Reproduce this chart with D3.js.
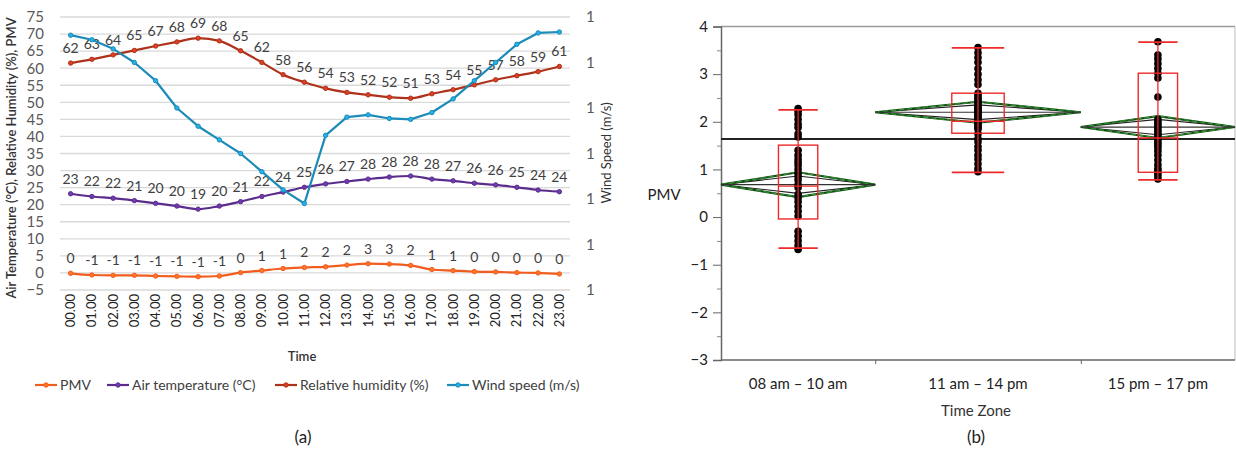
<!DOCTYPE html>
<html lang="en">
<head>
  <meta charset="UTF-8">
  <title>PMV, climate and time zones</title>
  <script src="https://d3js.org/d3.v7.min.js"></script>
  <style>
    body { margin: 0; background: #fff; }
    text { font-family: Lato, "Open Sans", sans-serif; }
  </style>
</head>
<body>
  <svg width="1236" height="456"></svg>
  <script>
    // (a) hourly values
    const hours = ["00.00","01.00","02.00","03.00","04.00","05.00","06.00","07.00","08.00","09.00","10.00","11.00",
                   "12.00","13.00","14.00","15.00","16.00","17.00","18.00","19.00","20.00","21.00","22.00","23.00"];
    const pmv = [-0.1,-0.6,-0.7,-0.7,-0.9,-1.0,-1.1,-0.9,0.1,0.7,1.3,1.6,1.8,2.3,2.7,2.6,2.2,1.0,0.7,0.4,0.3,0.1,0.0,-0.3];
    const airTemp = [23.2,22.4,21.9,21.2,20.4,19.6,18.7,19.6,20.9,22.4,23.7,25.1,
                     26.1,26.8,27.5,28.1,28.4,27.5,27.0,26.3,25.8,25.1,24.3,23.8];
    const humidity = [61.5,62.6,63.9,65.2,66.5,67.7,68.8,68.0,65.1,61.7,58.1,55.9,
                      54.1,52.9,52.2,51.5,51.2,52.5,53.7,55.1,56.6,57.8,59.0,60.5];
    const windSpeed = [1.36,1.35,1.33,1.30,1.26,1.20,1.16,1.13,1.10,1.06,1.02,0.99,
                       1.14,1.18,1.185,1.177,1.175,1.19,1.22,1.26,1.30,1.34,1.365,1.367];
    const leftTicks = d3.range(-5, 76, 5);
    const windTicks = [0.8,0.9,1.0,1.1,1.2,1.3,1.4];

    // (b) PMV by time zone
    const zones = ["08 am \u2013 10 am","11 am \u2013 14 pm","15 pm \u2013 17 pm"];
    const zoneCounts = [30, 40, 30];
    const zonePoints = [
      [2.28,2.22,2.15,2.05,1.95,1.88,1.75,1.68,1.40,1.30,1.22,1.15,1.08,1.00,0.92,0.85,0.78,0.68,0.62,0.48,
       0.40,0.32,0.22,0.12,0.02,-0.30,-0.40,-0.50,-0.60,-0.68],
      [3.56,3.45,3.35,3.25,3.12,3.00,2.88,2.78,2.60,2.55,2.50,2.46,2.42,2.38,2.35,2.32,2.28,2.25,2.22,2.18,
       2.15,2.12,2.08,2.05,2.02,1.98,1.95,1.92,1.88,1.85,1.75,1.65,1.58,1.48,1.40,1.30,1.22,1.12,1.02,0.95],
      [3.68,3.40,3.32,3.22,3.12,3.02,2.92,2.52,2.05,2.00,1.95,1.90,1.85,1.80,1.75,1.70,1.65,1.60,1.55,1.50,
       1.45,1.38,1.30,1.20,1.10,1.02,0.98,0.92,0.86,0.80]
    ];
    const whiskerHi = [2.25, 3.55, 3.67];
    const q3 = [1.51, 2.60, 3.02];
    const median = [0.65, 2.01, 1.66];
    const q1 = [-0.04, 1.76, 0.94];
    const whiskerLo = [-0.65, 0.94, 0.78];
    const means = [0.68, 2.20, 1.89];
    const ciLo = [0.42, 1.98, 1.66];
    const ciHi = [0.94, 2.42, 2.12];
    const grandMean = 1.64;
    const pmvTicks = [-3,-2,-1,0,1,2,3,4];

    const svg = d3.select("svg");

    // ---------- chart (a) ----------
    const colors = { pmv: "#f25c1e", temp: "#5a2d8c", rh: "#ae321b", wind: "#1c8bb8" };
    const x = d3.scaleBand(hours, [60, 570]);
    const cx = h => x(h) + x.bandwidth() / 2;
    const y = d3.scaleLinear([-5, 75], [290, 17]);
    const yWind = d3.scaleLinear([0.8, 1.4], [290, 17]);

    const a = svg.append("g");

    a.append("g").selectAll("line").data(leftTicks).join("line")
      .attr("x1", 60).attr("x2", 570)
      .attr("y1", d => y(d)).attr("y2", d => y(d))
      .attr("stroke", "#d9d9d9").attr("stroke-width", 1.3);

    const yAxis = a.append("g").attr("transform", "translate(60,0)")
      .call(d3.axisLeft(y).tickValues(leftTicks).tickSize(0).tickPadding(16));
    yAxis.select(".domain").remove();
    yAxis.selectAll("text").attr("font-size", 15).attr("fill", "#595959").style("font-family", "Lato");

    const wAxis = a.append("g").attr("transform", "translate(570,0)")
      .call(d3.axisRight(yWind).tickValues(windTicks).tickFormat(d3.format(".0f")).tickSize(0).tickPadding(16));
    wAxis.select(".domain").remove();
    wAxis.selectAll("text").attr("font-size", 15).attr("fill", "#595959").style("font-family", "Lato");

    const xAxis = a.append("g").attr("transform", "translate(0,290)")
      .call(d3.axisBottom(x).tickSize(0));
    xAxis.select(".domain").remove();
    xAxis.selectAll("text")
      .attr("transform", "rotate(-90)")
      .attr("text-anchor", "end")
      .attr("x", -4).attr("y", 0).attr("dy", "0.35em")
      .attr("font-size", 13).attr("fill", "#222").style("font-family", "Lato");

    a.append("text")
      .attr("transform", "translate(11,158) rotate(-90)")
      .attr("text-anchor", "middle").attr("dy", "0.35em")
      .attr("font-size", 13).attr("font-weight", 600).attr("fill", "#333")
      .text("Air Temperature (\u00b0C), Relative Humidity (%), PMV");

    a.append("text")
      .attr("transform", "translate(606,153) rotate(-90)")
      .attr("text-anchor", "middle").attr("dy", "0.35em")
      .attr("font-size", 13).attr("fill", "#333")
      .text("Wind Speed (m/s)");

    a.append("text").attr("x", 302).attr("y", 361)
      .attr("text-anchor", "middle").attr("font-size", 13).attr("font-weight", 600).attr("fill", "#333")
      .text("Time");

    const series = [
      { key: "pmv", values: pmv, scale: y, label: true, curve: d3.curveMonotoneX },
      { key: "temp", values: airTemp, scale: y, label: true, curve: d3.curveMonotoneX },
      { key: "rh", values: humidity, scale: y, label: true, curve: d3.curveMonotoneX },
      { key: "wind", values: windSpeed, scale: yWind, label: false, curve: d3.curveLinear }
    ];

    series.forEach(s => {
      const line = d3.line().curve(s.curve)
        .x((d, i) => cx(hours[i])).y(d => s.scale(d));
      a.append("path").datum(s.values)
        .attr("fill", "none").attr("stroke", colors[s.key]).attr("stroke-width", 2.2)
        .attr("stroke-linejoin", "round")
        .attr("d", line);
      a.append("g").selectAll("circle").data(s.values).join("circle")
        .attr("cx", (d, i) => cx(hours[i])).attr("cy", d => s.scale(d))
        .attr("r", 2.2)
        .attr("fill", d3.color(colors[s.key]).brighter(0.7))
        .attr("stroke", colors[s.key]).attr("stroke-width", 1);
      if (s.label) {
        a.append("g").selectAll("text").data(s.values).join("text")
          .attr("x", (d, i) => cx(hours[i])).attr("y", d => s.scale(d) - 10)
          .attr("text-anchor", "middle").attr("font-size", 14).attr("fill", "#404040")
          .text(d => String(Math.round(d) || 0));
      }
    });

    const legendItems = [
      { key: "pmv", name: "PMV", x: 35 },
      { key: "temp", name: "Air temperature  (\u00b0C)", x: 107 },
      { key: "rh", name: "Relative humidity (%)", x: 275 },
      { key: "wind", name: "Wind speed  (m/s)", x: 447 }
    ];
    const lg = a.append("g").selectAll("g").data(legendItems).join("g")
      .attr("transform", d => `translate(${d.x},385)`);
    lg.append("line").attr("x1", 0).attr("x2", 22)
      .attr("stroke", d => colors[d.key]).attr("stroke-width", 2.2);
    lg.append("circle").attr("cx", 11).attr("r", 2.2)
      .attr("fill", d => d3.color(colors[d.key]).brighter(0.7)).attr("stroke", d => colors[d.key]);
    lg.append("text").attr("x", 25).attr("dy", "0.35em")
      .attr("font-size", 14).attr("fill", "#404040").text(d => d.name);

    a.append("text").attr("x", 303).attr("y", 443)
      .attr("text-anchor", "middle").attr("font-size", 17).attr("fill", "#222").text("(a)");

    // ---------- chart (b) ----------
    const total = d3.sum(zoneCounts);
    const xb = d3.scaleLinear([0, total], [721, 1235]);
    const starts = zoneCounts.map((c, i) => d3.sum(zoneCounts.slice(0, i)));
    const yb = d3.scaleLinear([-3, 4], [360, 26.5]);

    const b = svg.append("g");

    // frame
    b.append("line").attr("x1", 721).attr("x2", 1235).attr("y1", yb(4)).attr("y2", yb(4))
      .attr("stroke", "#9a9a9a").attr("stroke-width", 1.5);
    b.append("line").attr("x1", 1235).attr("x2", 1235).attr("y1", yb(4)).attr("y2", yb(-3))
      .attr("stroke", "#bbb").attr("stroke-width", 1);

    const yAxisB = b.append("g").attr("transform", "translate(721,0)")
      .call(d3.axisLeft(yb).tickValues(pmvTicks).tickFormat(d3.format("d")).tickSize(8).tickPadding(5));
    yAxisB.select(".domain").attr("stroke", "#666").attr("stroke-width", 1.5);
    yAxisB.selectAll(".tick line").attr("stroke", "#666");
    yAxisB.selectAll("text").attr("font-size", 15).attr("fill", "#222").style("font-family", "Lato");
    const minor = b.append("g").attr("transform", "translate(721,0)")
      .call(d3.axisLeft(yb).tickValues(pmvTicks.slice(0, -1).map(v => v + 0.5)).tickFormat("").tickSize(4));
    minor.select(".domain").remove();
    minor.selectAll(".tick line").attr("stroke", "#888");

    const xAxisB = b.append("g").attr("transform", `translate(0,${yb(-3)})`)
      .call(d3.axisBottom(xb).tickValues(starts.slice(1)).tickFormat("").tickSize(4));
    xAxisB.select(".domain").attr("stroke", "#666").attr("stroke-width", 1.5).attr("d", "M721,0H1235");
    xAxisB.selectAll(".tick line").attr("stroke", "#666");

    b.append("g").selectAll("text").data(zones).join("text")
      .attr("x", (d, i) => xb(starts[i] + zoneCounts[i] / 2)).attr("y", 389)
      .attr("text-anchor", "middle").attr("font-size", 15).attr("fill", "#222").text(d => d);

    b.append("text").attr("x", 976).attr("y", 416)
      .attr("text-anchor", "middle").attr("font-size", 15).attr("fill", "#333").text("Time Zone");
    b.append("text").attr("x", 664).attr("y", 200)
      .attr("text-anchor", "middle").attr("font-size", 15).attr("fill", "#222").text("PMV");
    b.append("text").attr("x", 976).attr("y", 443)
      .attr("text-anchor", "middle").attr("font-size", 17).attr("fill", "#222").text("(b)");

    // grand mean
    b.append("line").attr("x1", 721).attr("x2", 1235)
      .attr("y1", yb(grandMean)).attr("y2", yb(grandMean))
      .attr("stroke", "#222").attr("stroke-width", 2);

    zones.forEach((z, i) => {
      const x0 = xb(starts[i]), x1 = xb(starts[i] + zoneCounts[i]), xc = (x0 + x1) / 2;
      const half = (ciHi[i] - means[i]);
      const inner = half * 0.7;
      const g = b.append("g");
      // inner diamond (overlap marks)
      g.append("path")
        .attr("d", `M${x0},${yb(means[i])}L${xc},${yb(means[i] + inner)}L${x1},${yb(means[i])}L${xc},${yb(means[i] - inner)}Z`)
        .attr("fill", "none").attr("stroke", "#222").attr("stroke-width", 1.1);
      // mean diamond
      const dpath = `M${x0},${yb(means[i])}L${xc},${yb(ciHi[i])}L${x1},${yb(means[i])}L${xc},${yb(ciLo[i])}Z`;
      g.append("path").attr("d", dpath).attr("fill", "none").attr("stroke", "#174d17").attr("stroke-width", 2.2);
      g.append("path").attr("d", dpath).attr("fill", "none").attr("stroke", "#2f9a2f")
        .attr("stroke-width", 1.2).attr("stroke-dasharray", "5,3");
      g.append("line").attr("x1", x0).attr("x2", x1)
        .attr("y1", yb(means[i])).attr("y2", yb(means[i]))
        .attr("stroke", "#333").attr("stroke-width", 1.2);

      // points
      g.append("g").selectAll("circle").data(zonePoints[i]).join("circle")
        .attr("cx", xc).attr("cy", d => yb(d)).attr("r", 3.8).attr("fill", "#000");

      // box plot
      const bw = (x1 - x0) * 0.255;
      g.append("line").attr("x1", xc).attr("x2", xc)
        .attr("y1", yb(whiskerHi[i])).attr("y2", yb(whiskerLo[i]))
        .attr("stroke", "#ee2a2a").attr("stroke-width", 1.3);
      g.append("rect").attr("x", xc - bw / 2).attr("width", bw)
        .attr("y", yb(q3[i])).attr("height", yb(q1[i]) - yb(q3[i]))
        .attr("fill", "none").attr("stroke", "#ee2a2a").attr("stroke-width", 1.4);
      g.append("line").attr("x1", xc - bw / 2).attr("x2", xc + bw / 2)
        .attr("y1", yb(median[i])).attr("y2", yb(median[i]))
        .attr("stroke", "#ee2a2a").attr("stroke-width", 1.4);
      [whiskerHi[i], whiskerLo[i]].forEach(v => {
        g.append("line").attr("x1", xc - bw / 2).attr("x2", xc + bw / 2)
          .attr("y1", yb(v)).attr("y2", yb(v))
          .attr("stroke", "#ee2a2a").attr("stroke-width", 1.8);
      });
    });
  </script>
</body>
</html>
